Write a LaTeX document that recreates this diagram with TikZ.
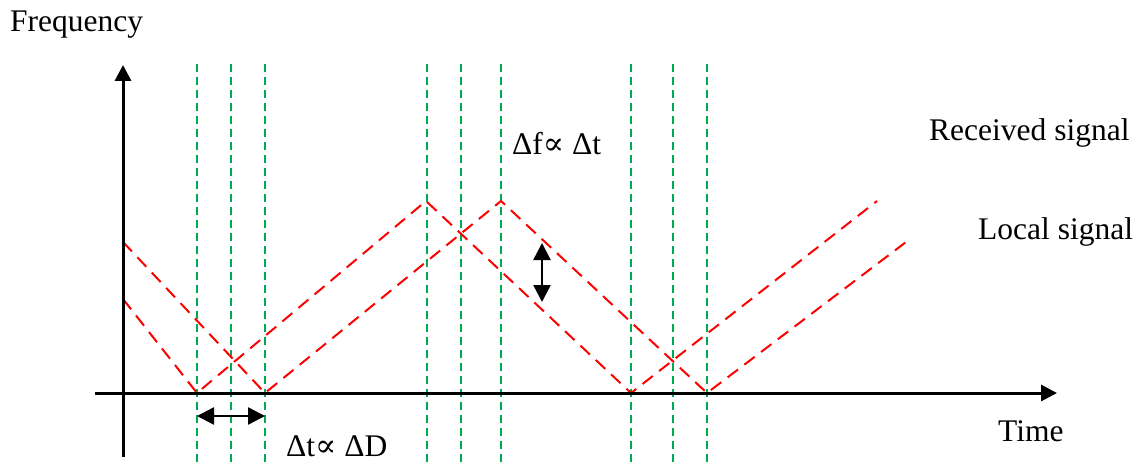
\documentclass[tikz,border=0pt]{standalone}
\usepackage{fontspec}
\setmainfont{Liberation Serif}
\newfontfamily\propfont{DejaVu Serif}
\usetikzlibrary{arrows.meta}
\tikzset{
  axis/.style={line width=3pt, -{Triangle[length=16pt,width=16pt]}},
  gline/.style={draw={rgb,255:red,0;green,170;blue,80}, line width=2.2pt, dash pattern=on 8pt off 5pt},
  rline/.style={draw={rgb,255:red,255;green,0;blue,0}, line width=2pt, dash pattern=on 13pt off 8pt},
  darrow/.style={line width=2.5pt, {Triangle[length=17pt,width=17pt]}-{Triangle[length=17pt,width=17pt]}},
  lbl/.style={font=\fontsize{31.5}{36}\selectfont, inner sep=0pt, anchor=base west}
}
\begin{document}
\begin{tikzpicture}[x=1pt,y=-1pt]
\useasboundingbox (0,0) rectangle (1140,465);
% green dashed markers
\foreach \gx in {197,231,265,427,461,501,631,673,707}
  \draw[gline] (\gx,64) -- (\gx,465);
% coordinates of the red lines
\coordinate (a0) at (123,242);
\coordinate (b0) at (123,299);
\coordinate (b1) at (197,393);
\coordinate (a1) at (265,393);
\coordinate (b2) at (426,201);
\coordinate (a2) at (501,201);
\coordinate (b3) at (631,393);
\coordinate (a3) at (707,393);
\coordinate (b4) at (877,201);
\coordinate (a4) at (910,239);
\draw[rline] (a0) -- (a1) -- (a2) -- (a3) -- (a4);
\draw[rline] (b0) -- (b1) -- (b2) -- (b3) -- (b4);
% axes
\coordinate (ybot) at (123,457);
\coordinate (ytop) at (123,65);
\coordinate (xleft) at (95,393);
\coordinate (xright) at (1057,393);
\draw[axis] (ybot) -- (ytop);
\draw[axis] (xleft) -- (xright);
% double arrows
\coordinate (h1) at (197,416);
\coordinate (h2) at (265,416);
\draw[darrow] (h1) -- (h2);
\coordinate (v1) at (542,243);
\coordinate (v2) at (542,302);
\draw[darrow] (v1) -- (v2);
% labels
\node[lbl] (freq) at (10,32) {Frequency};
\node[lbl] (time) at (998,441) {Time};
\node[lbl] (recv) at (929,141) {Received signal};
\node[lbl] (loc) at (978,240) {Local signal};
\node[lbl] (df) at (512,155) {Δf{\propfont ∝} Δt};
\node[lbl] (dt) at (286,456) {Δt{\propfont ∝} ΔD};
\end{tikzpicture}
\end{document}
